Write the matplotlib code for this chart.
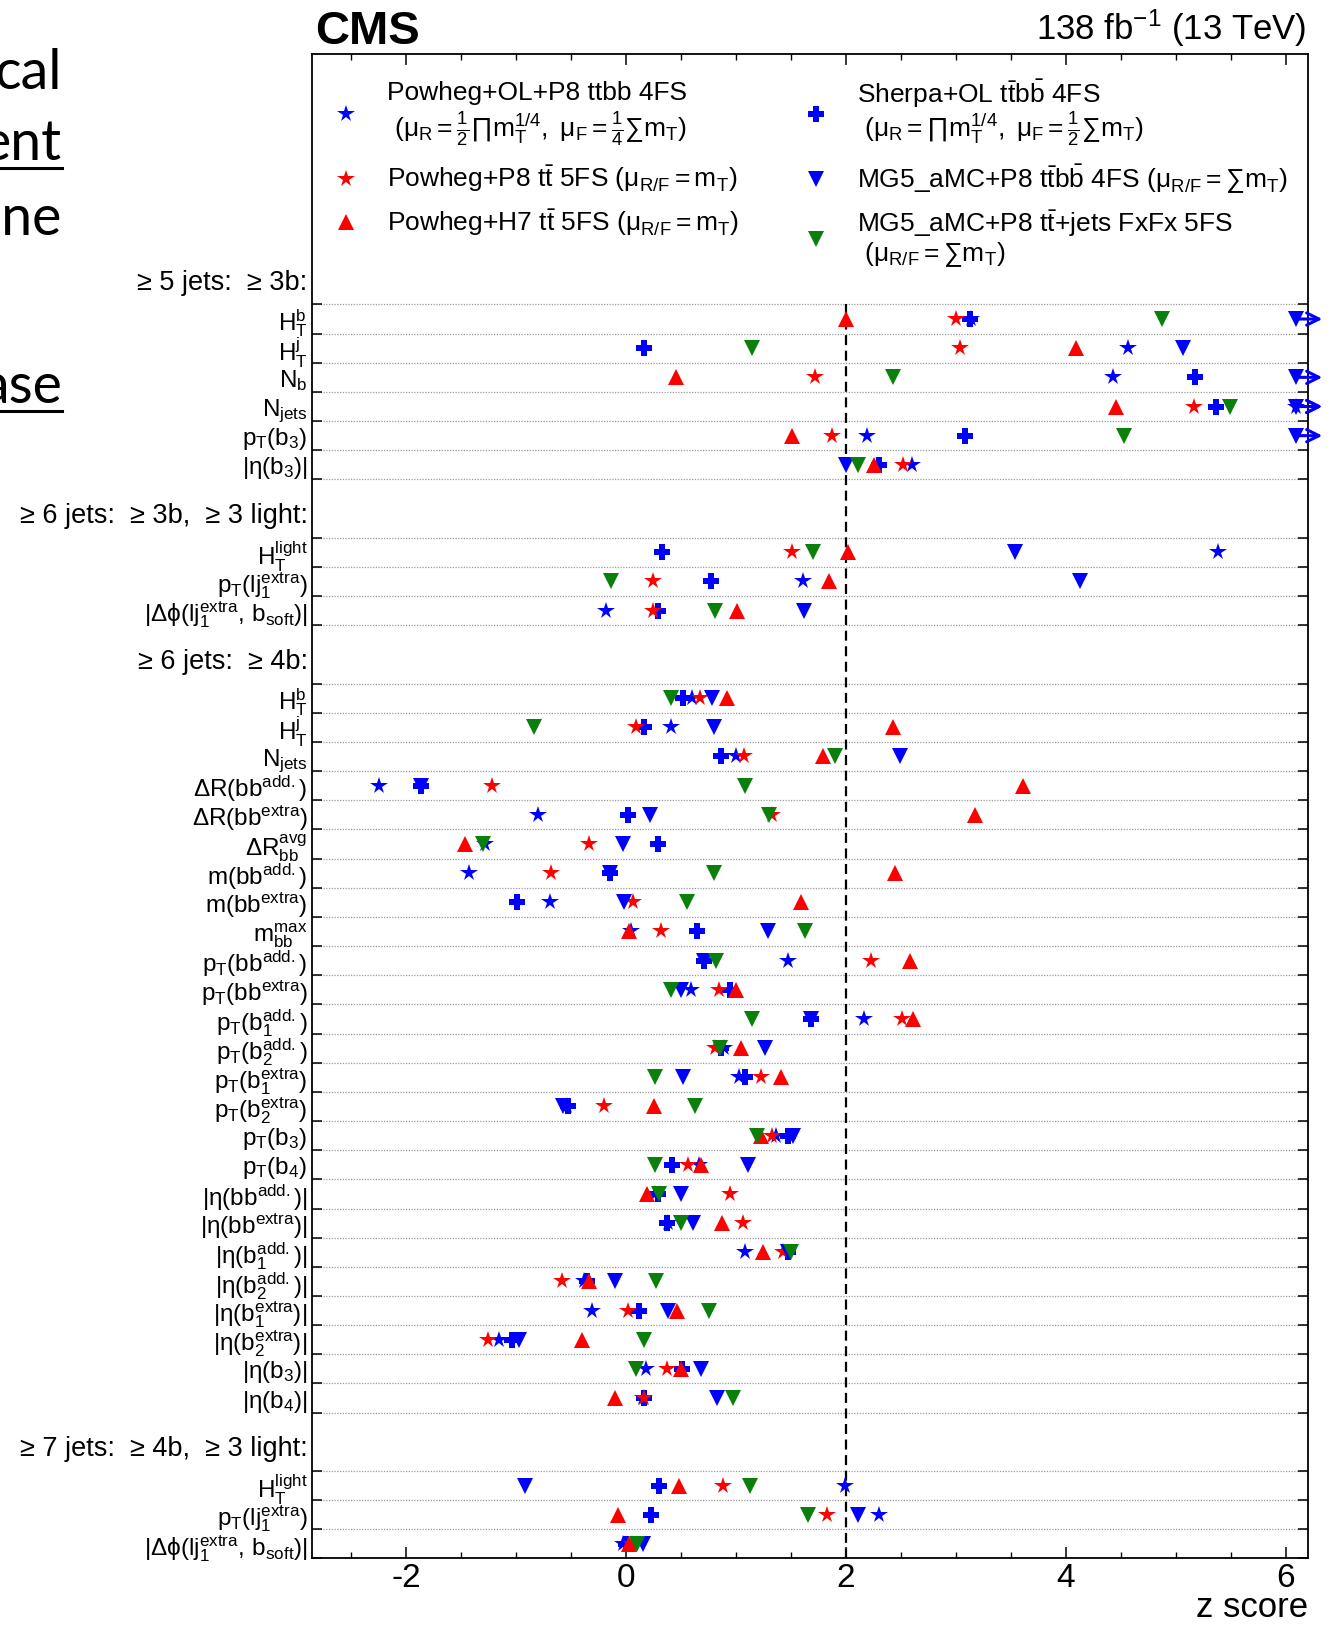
import numpy as np
import matplotlib
matplotlib.use('Agg')
import matplotlib.pyplot as plt
import matplotlib.transforms as mtransforms
from matplotlib.lines import Line2D
from matplotlib import font_manager as fm

names = {f.name for f in fm.fontManager.ttflist}
sans = 'Liberation Sans Narrow' if 'Liberation Sans Narrow' in names else 'Liberation Sans'
plt.rcParams['font.family'] = [sans, 'DejaVu Sans']
plt.rcParams['mathtext.fontset'] = 'custom'
plt.rcParams['mathtext.rm'] = sans
plt.rcParams['mathtext.it'] = sans + ':italic'
plt.rcParams['mathtext.bf'] = sans + ':bold'
plt.rcParams['axes.unicode_minus'] = False

# ---- data: z scores per observable, one list per generator setup ----
sections = ['≥ 5 jets:  ≥ 3b:', '≥ 6 jets:  ≥ 3b,  ≥ 3 light:',
            '≥ 6 jets:  ≥ 4b:', '≥ 7 jets:  ≥ 4b,  ≥ 3 light:']
section_sizes = [6, 3, 25, 3]

row_labels = [
    r'$\mathrm{H_T^b}$', r'$\mathrm{H_T^j}$', r'$\mathrm{N_b}$', r'$\mathrm{N_{jets}}$',
    r'$\mathrm{p_T(b_3)}$', r'$\mathrm{|\eta(b_3)|}$',
    r'$\mathrm{H_T^{light}}$', r'$\mathrm{p_T(lj_1^{extra})}$',
    r'$\mathrm{|\Delta\phi(lj_1^{extra},\,b_{soft})|}$',
    r'$\mathrm{H_T^b}$', r'$\mathrm{H_T^j}$', r'$\mathrm{N_{jets}}$',
    r'$\mathrm{\Delta R(bb^{add.})}$', r'$\mathrm{\Delta R(bb^{extra})}$',
    r'$\mathrm{\Delta R_{bb}^{avg}}$', r'$\mathrm{m(bb^{add.})}$', r'$\mathrm{m(bb^{extra})}$',
    r'$\mathrm{m_{bb}^{max}}$', r'$\mathrm{p_T(bb^{add.})}$', r'$\mathrm{p_T(bb^{extra})}$',
    r'$\mathrm{p_T(b_1^{add.})}$', r'$\mathrm{p_T(b_2^{add.})}$',
    r'$\mathrm{p_T(b_1^{extra})}$', r'$\mathrm{p_T(b_2^{extra})}$',
    r'$\mathrm{p_T(b_3)}$', r'$\mathrm{p_T(b_4)}$',
    r'$\mathrm{|\eta(bb^{add.})|}$', r'$\mathrm{|\eta(bb^{extra})|}$',
    r'$\mathrm{|\eta(b_1^{add.})|}$', r'$\mathrm{|\eta(b_2^{add.})|}$',
    r'$\mathrm{|\eta(b_1^{extra})|}$', r'$\mathrm{|\eta(b_2^{extra})|}$',
    r'$\mathrm{|\eta(b_3)|}$', r'$\mathrm{|\eta(b_4)|}$',
    r'$\mathrm{H_T^{light}}$', r'$\mathrm{p_T(lj_1^{extra})}$',
    r'$\mathrm{|\Delta\phi(lj_1^{extra},\,b_{soft})|}$',
]

inf = np.inf  # beyond the right edge of the axis
pwg_ol_ttbb = [3.14, 4.56, 4.43, inf, 2.19, 2.60,
               5.38, 1.61, -0.18,
               0.60, 0.405, 1.00, -2.25, -0.80, -1.28, -1.43, -0.69, 0.04, 1.47, 0.59,
               2.16, 0.89, 1.03, -0.54, 1.36, 0.66, 0.26, 0.38, 1.08, -0.38, -0.31,
               -1.16, 0.18, 0.15,
               1.99, 2.30, -0.03]
sherpa_ttbb = [3.13, 0.16, 5.17, 5.36, 3.08, 2.30,
               0.33, 0.77, 0.29,
               0.515, 0.16, 0.86, -1.87, 0.02, 0.29, -0.15, -0.99, 0.64, 0.71, 0.94,
               1.68, 0.86, 1.08, -0.53, 1.47, 0.42, 0.29, 0.37, 1.47, -0.36, 0.12,
               -1.04, 0.51, 0.16,
               0.30, 0.23, 0.00]
pwg_p8_tt = [3.00, 3.04, 1.72, 5.16, 1.87, 2.52,
             1.51, 0.24, 0.24,
             0.67, 0.086, 1.07, -1.22, 1.33, -0.34, -0.68, 0.06, 0.32, 2.23, 0.84,
             2.51, 0.81, 1.23, -0.20, 1.33, 0.56, 0.94, 1.06, 1.43, -0.58, 0.02,
             -1.26, 0.37, 0.16,
             0.88, 1.83, 0.05]
mg5_ttbb = [inf, 5.06, inf, inf, inf, 2.00,
            3.54, 4.13, 1.62,
            0.78, 0.80, 2.49, -1.87, 0.22, -0.03, -0.15, -0.02, 1.29, 0.71, 0.50,
            1.68, 1.26, 0.515, -0.57, 1.52, 1.11, 0.50, 0.61, 1.47, -0.10, 0.38,
            -0.97, 0.68, 0.83,
            -0.92, 2.11, 0.155]
pwg_h7_tt = [2.00, 4.09, 0.45, 4.45, 1.51, 2.25,
             2.02, 1.84, 1.01,
             0.92, 2.43, 1.79, 3.61, 3.17, -1.47, 2.44, 1.59, 0.03, 2.58, 1.00,
             2.61, 1.04, 1.41, 0.25, 1.23, 0.68, 0.185, 0.875, 1.245, -0.34, 0.46,
             -0.40, 0.50, -0.10,
             0.48, -0.07, 0.03]
mg5_fxfx = [4.87, 1.14, 2.43, 5.49, 4.53, 2.11,
            1.70, -0.14, 0.81,
            0.405, -0.84, 1.90, 1.08, 1.30, -1.30, 0.80, 0.55, 1.63, 0.82, 0.405,
            1.14, 0.85, 0.26, 0.63, 1.19, 0.26, 0.30, 0.50, 1.50, 0.27, 0.75,
            0.16, 0.086, 0.97,
            1.13, 1.65, 0.10]

BLUE, RED, GREEN = '#0000ff', '#ff0000', '#0b7f0b'
models = [
    (pwg_ol_ttbb, '*', BLUE, 13),
    (sherpa_ttbb, 'P', BLUE, 11),
    (pwg_p8_tt, '*', RED, 13),
    (mg5_ttbb, 'v', BLUE, 12),
    (pwg_h7_tt, '^', RED, 12),
    (mg5_fxfx, 'v', GREEN, 12),
]

# ---- row layout: one unit per observable, two units per section header ----
centers, bounds, header_y = [], [], []
start = 0.0
for n in section_sizes:
    header_y.append(start - 0.75)
    centers += list(start + 0.5 + np.arange(n))
    bounds += list(start + np.arange(n + 1))
    start += n + 2
centers = np.array(centers)
y_bottom = bounds[-1]
y_top = -8.59
xmin, xmax = -2.86, 6.2
x_edge = 6.09

fig = plt.figure(figsize=(13.29, 16.29), dpi=100)
ax = fig.add_axes([0.2345, 0.0433, 0.7497, 0.9236])
ax.set_xlim(xmin, xmax)
ax.set_ylim(y_bottom, y_top)

ax.hlines(bounds, xmin, xmax, colors='#9a9a9a', linestyles=(0, (1, 1.2)), lw=0.9, zorder=1)
ax.vlines(2, 0, y_bottom, colors='k', linestyles=(0, (4.5, 2.5)), lw=1.6, zorder=2)

for vals, mk, col, ms in models:
    vals = np.asarray(vals, dtype=float)
    over = ~np.isfinite(vals) | (vals > xmax)
    xs = np.where(over, x_edge, vals)
    ax.plot(xs, centers, ls='none', marker=mk, color=col, ms=ms, mew=0, zorder=3, clip_on=False)
    for yy in centers[over]:
        ax.annotate('', xy=(6.33, yy), xytext=(x_edge, yy), annotation_clip=False,
                    arrowprops=dict(arrowstyle='->', color=col, lw=2.2, mutation_scale=22,
                                    shrinkA=0, shrinkB=0), zorder=4)

# ticks
ax.set_xticks([-2, 0, 2, 4, 6])
ax.xaxis.set_minor_locator(matplotlib.ticker.MultipleLocator(0.5))
ax.set_yticks(bounds)
ax.set_yticklabels([])
ax.set_yticks(centers, labels=row_labels, minor=True)
ax.tick_params(axis='x', which='major', direction='in', top=True, length=8, width=1.1,
               labelsize=24, pad=3)
ax.tick_params(axis='x', which='minor', direction='in', top=True, length=4, width=1.0)
ax.tick_params(axis='y', which='major', direction='in', right=True, length=7, width=1.1)
ax.tick_params(axis='y', which='minor', length=0, labelsize=17.5, pad=3)
for s in ax.spines.values():
    s.set_linewidth(1.3)

ax.set_xlabel('z score', fontsize=25, loc='right', labelpad=-2)

trans = mtransforms.blended_transform_factory(ax.transAxes, ax.transData)
for txt, yy in zip(sections, header_y):
    ax.text(-0.004, yy, txt, transform=trans, ha='right', va='center', fontsize=19.5)

# legend block
leg = [
    (0.0344, 0.960, '*', BLUE, 13, [(0.974, 'Powheg+OL+P8 ttbb 4FS'),
        (0.9496, r' $\mathrm{(\mu_R = \frac{1}{2}\prod m_T^{1/4},\ \mu_F = \frac{1}{4}\sum m_T)}$')]),
    (0.0344, 0.917, '*', RED, 13, [(0.917, r'Powheg+P8 $\mathrm{t\bar{t}}$ 5FS ($\mathrm{\mu_{R/F} = m_T}$)')]),
    (0.0344, 0.888, '^', RED, 12, [(0.888, r'Powheg+H7 $\mathrm{t\bar{t}}$ 5FS ($\mathrm{\mu_{R/F} = m_T}$)')]),
    (0.5057, 0.960, 'P', BLUE, 11, [(0.974, r'Sherpa+OL $\mathrm{t\bar{t}b\bar{b}}$ 4FS'),
        (0.9496, r' $\mathrm{(\mu_R = \prod m_T^{1/4},\ \mu_F = \frac{1}{2}\sum m_T)}$')]),
    (0.5057, 0.917, 'v', BLUE, 12, [(0.917, r'MG5_aMC+P8 $\mathrm{t\bar{t}b\bar{b}}$ 4FS ($\mathrm{\mu_{R/F} = \sum m_T}$)')]),
    (0.5057, 0.877, 'v', GREEN, 12, [(0.8874, r'MG5_aMC+P8 $\mathrm{t\bar{t}}$+jets FxFx 5FS'),
        (0.8667, r' $\mathrm{(\mu_{R/F} = \sum m_T)}$')]),
]
for mx, my, mk, col, ms, lines in leg:
    ax.add_line(Line2D([mx], [my], transform=ax.transAxes, marker=mk, color=col, ms=ms,
                       mew=0, ls='none', clip_on=False))
    for ty, txt in lines:
        ax.text(mx + 0.0417, ty, txt, transform=ax.transAxes, ha='left', va='center', fontsize=19)

ax.text(0.003, 1.0069, 'CMS', transform=ax.transAxes, fontsize=34, fontweight='bold',
        family='Liberation Sans', ha='left', va='baseline')
ax.text(0.998, 1.0097, r'138 fb$^{-1}$ (13 TeV)', transform=ax.transAxes, fontsize=25,
        ha='right', va='baseline')

# fragments of the slide text behind the figure
for word, yb, under in [('cal', 0.9455, False), ('ent', 0.9015, True),
                        ('ine', 0.8560, False), ('ase', 0.7525, True)]:
    t = fig.text(62 / 1329, yb, word, fontsize=40, family='Lato', ha='right', va='baseline')
    if under:
        fig.add_artist(Line2D([0, 62 / 1329], [yb - 0.0045, yb - 0.0045], color='k', lw=2.2))

fig.savefig('out.png', dpi=100)
